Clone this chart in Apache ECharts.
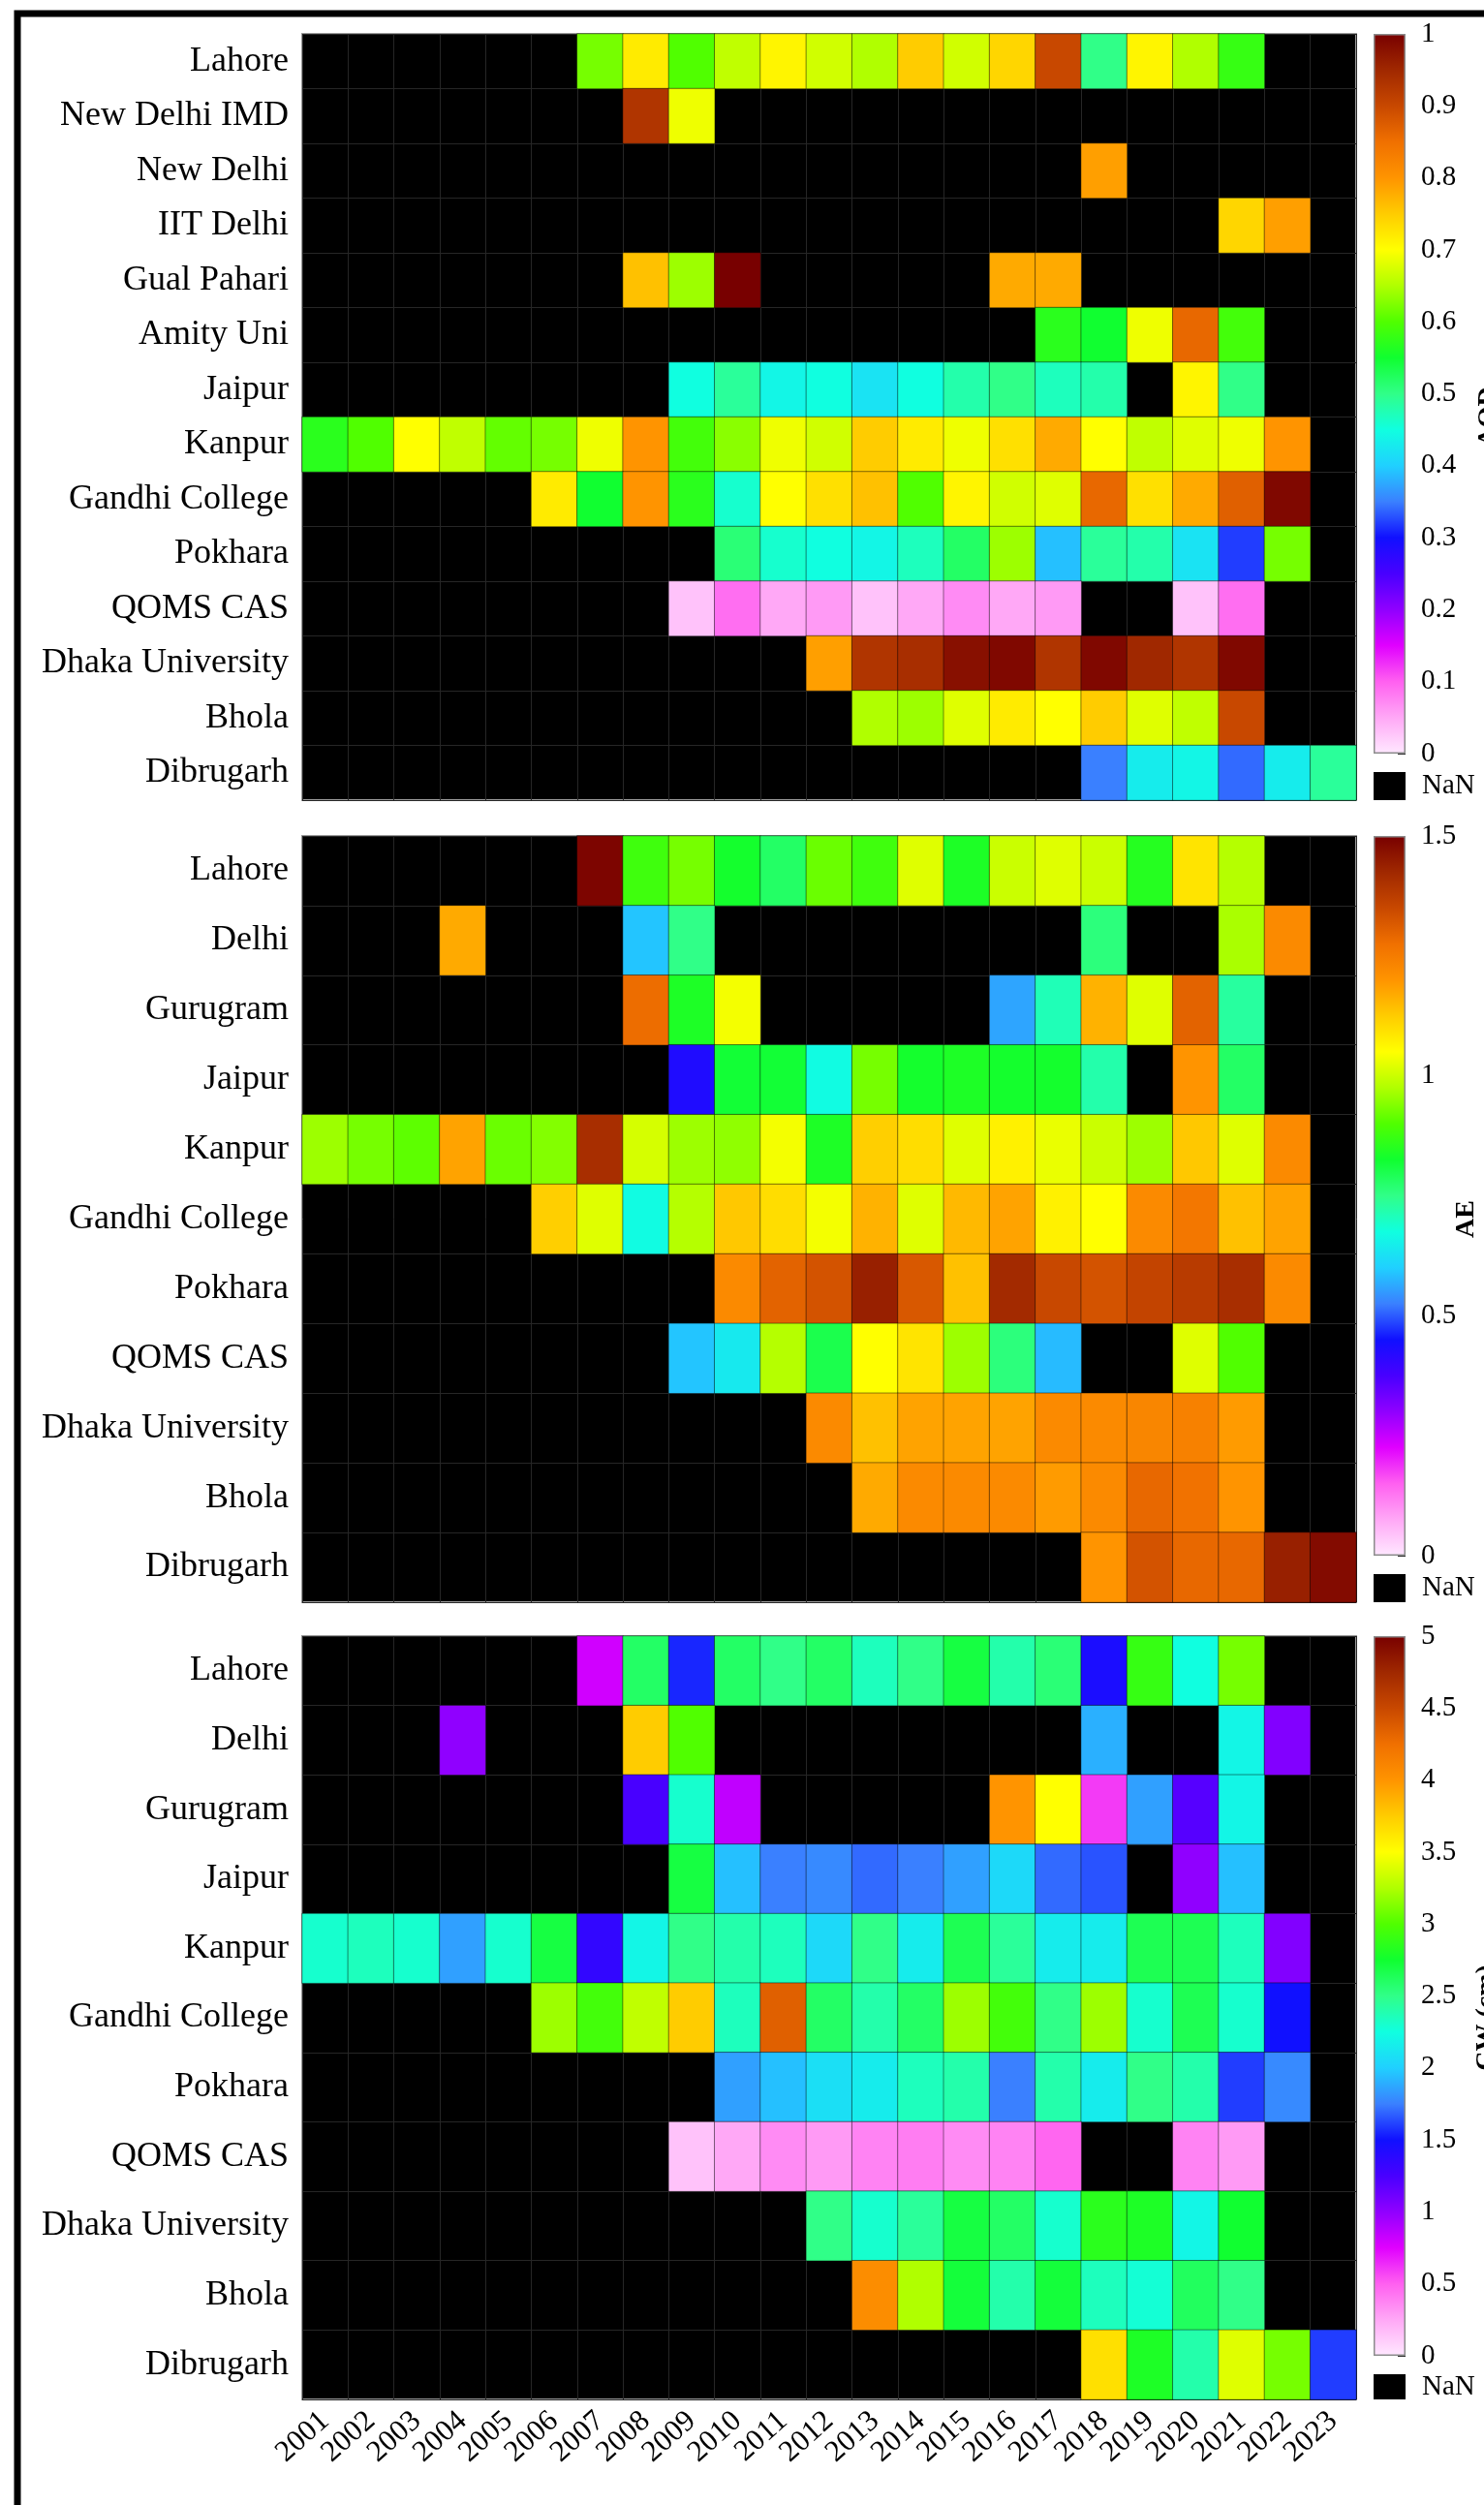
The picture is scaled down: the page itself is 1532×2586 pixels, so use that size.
<!DOCTYPE html>
<html>
<head>
<meta charset="utf-8">
<script src="https://cdn.jsdelivr.net/npm/echarts@6/dist/echarts.min.js"></script>
<style>
    html, body { margin: 0; padding: 0; background: #fff; }
    #main { width: 1532px; height: 2586px; }
</style>
</head>
<body>
<div id="main"></div>
<script>
var N = null;
var years = ['2001', '2002', '2003', '2004', '2005', '2006', '2007', '2008', '2009', '2010', '2011', '2012',
    '2013', '2014', '2015', '2016', '2017', '2018', '2019', '2020', '2021', '2022', '2023'];

// 上图 AOD
var aodSites = ['Lahore', 'New Delhi IMD', 'New Delhi', 'IIT Delhi', 'Gual Pahari', 'Amity Uni', 'Jaipur',
    'Kanpur', 'Gandhi College', 'Pokhara', 'QOMS CAS', 'Dhaka University', 'Bhola', 'Dibrugarh'];
var aodValues = [
    [N, N, N, N, N, N, .62, .72, .60, .66, .71, .67, .65, .75, .67, .74, .90, .50, .71, .65, .58, N, N],
    [N, N, N, N, N, N, N, .93, .69, N, N, N, N, N, N, N, N, N, N, N, N, N, N],
    [N, N, N, N, N, N, N, N, N, N, N, N, N, N, N, N, N, .79, N, N, N, N, N],
    [N, N, N, N, N, N, N, N, N, N, N, N, N, N, N, N, N, N, N, N, .74, .79, N],
    [N, N, N, N, N, N, N, .76, .64, 1.0, N, N, N, N, N, .78, .78, N, N, N, N, N, N],
    [N, N, N, N, N, N, N, N, N, N, N, N, N, N, N, N, .57, .55, .69, .86, .59, N, N],
    [N, N, N, N, N, N, N, N, .45, .49, .44, .45, .42, .45, .48, .50, .47, .48, N, .71, .50, N, N],
    [.57, .60, .70, .66, .61, .62, .69, .80, .59, .63, .69, .67, .75, .72, .69, .73, .78, .70, .66, .68, .69, .80, N],
    [N, N, N, N, N, .72, .55, .80, .57, .46, .70, .73, .76, .60, .71, .67, .68, .86, .73, .78, .87, .99, N],
    [N, N, N, N, N, N, N, N, N, .51, .46, .45, .44, .47, .52, .64, .39, .49, .48, .42, .32, .62, N],
    [N, N, N, N, N, N, N, N, .03, .09, .05, .06, .03, .05, .07, .05, .06, N, N, .03, .09, N, N],
    [N, N, N, N, N, N, N, N, N, N, N, .79, .93, .94, .98, .99, .93, .99, .95, .93, .99, N, N],
    [N, N, N, N, N, N, N, N, N, N, N, N, .65, .64, .68, .72, .70, .75, .68, .66, .90, N, N],
    [N, N, N, N, N, N, N, N, N, N, N, N, N, N, N, N, N, .35, .43, .44, .34, .43, .49]
];

// 中图 AE
var aeSites = ['Lahore', 'Delhi', 'Gurugram', 'Jaipur', 'Kanpur', 'Gandhi College', 'Pokhara', 'QOMS CAS',
    'Dhaka University', 'Bhola', 'Dibrugarh'];
var aeValues = [
    [N, N, N, N, N, N, 1.49, .88, .93, .83, .78, .92, .88, 1.02, .84, 1.00, 1.02, 1.00, .85, 1.09, .98, N, N],
    [N, N, N, 1.17, N, N, N, .59, .75, N, N, N, N, N, N, N, N, .76, N, N, .97, 1.22, N],
    [N, N, N, N, N, N, N, 1.28, .84, 1.04, N, N, N, N, N, .56, .71, 1.16, 1.02, 1.30, .73, N, N],
    [N, N, N, N, N, N, N, N, .43, .82, .82, .67, .93, .83, .84, .83, .83, .72, N, 1.20, .78, N, N],
    [.96, .93, .91, 1.18, .92, .94, 1.41, 1.01, .96, .95, 1.04, .84, 1.12, 1.10, 1.02, 1.07, 1.03, 1.00, .96, 1.13, 1.02, 1.22, N],
    [N, N, N, N, N, 1.12, 1.02, .67, .98, 1.13, 1.10, 1.04, 1.16, 1.02, 1.15, 1.18, 1.07, 1.05, 1.22, 1.26, 1.14, 1.18, N],
    [N, N, N, N, N, N, N, N, N, 1.22, 1.30, 1.33, 1.44, 1.32, 1.14, 1.42, 1.35, 1.33, 1.36, 1.38, 1.41, 1.22, N],
    [N, N, N, N, N, N, N, N, .59, .64, .98, .80, 1.05, 1.09, .96, .76, .58, N, N, 1.02, .90, N, N],
    [N, N, N, N, N, N, N, N, N, N, N, 1.22, 1.14, 1.18, 1.18, 1.18, 1.22, 1.22, 1.23, 1.24, 1.19, N, N],
    [N, N, N, N, N, N, N, N, N, N, N, N, 1.17, 1.22, 1.22, 1.22, 1.19, 1.22, 1.29, 1.27, 1.20, N, N],
    [N, N, N, N, N, N, N, N, N, N, N, N, N, N, N, N, N, 1.20, 1.33, 1.29, 1.29, 1.44, 1.48]
];

// 下图 CW (cm)
var cwSites = aeSites;
var cwValues = [
    [N, N, N, N, N, N, .80, 2.60, 1.55, 2.60, 2.50, 2.60, 2.35, 2.50, 2.70, 2.40, 2.55, 1.45, 2.90, 2.25, 3.10, N, N],
    [N, N, N, 1.00, N, N, N, 3.75, 3.00, N, N, N, N, N, N, N, N, 1.90, N, N, 2.20, 1.05, N],
    [N, N, N, N, N, N, N, 1.25, 2.30, .85, N, N, N, N, N, 4.00, 3.50, .60, 1.85, 1.20, 2.20, N, N],
    [N, N, N, N, N, N, N, N, 2.70, 1.95, 1.75, 1.78, 1.70, 1.75, 1.85, 2.05, 1.70, 1.65, N, 1.00, 1.95, N, N],
    [2.30, 2.35, 2.30, 1.85, 2.30, 2.70, 1.35, 2.20, 2.50, 2.40, 2.35, 2.05, 2.50, 2.15, 2.65, 2.45, 2.15, 2.15, 2.65, 2.65, 2.35, 1.05, N],
    [N, N, N, N, N, 3.20, 2.95, 3.30, 3.75, 2.35, 4.35, 2.60, 2.40, 2.60, 3.20, 2.95, 2.50, 3.20, 2.30, 2.65, 2.30, 1.50, N],
    [N, N, N, N, N, N, N, N, N, 1.85, 1.95, 2.08, 2.15, 2.35, 2.40, 1.75, 2.40, 2.15, 2.50, 2.40, 1.60, 1.78, N],
    [N, N, N, N, N, N, N, N, .15, .25, .35, .30, .38, .40, .35, .38, .48, N, N, .38, .30, N, N],
    [N, N, N, N, N, N, N, N, N, N, N, 2.50, 2.30, 2.45, 2.70, 2.60, 2.30, 2.85, 2.80, 2.20, 2.75, N, N],
    [N, N, N, N, N, N, N, N, N, N, N, N, 4.05, 3.25, 2.72, 2.40, 2.72, 2.35, 2.28, 2.62, 2.50, N, N],
    [N, N, N, N, N, N, N, N, N, N, N, N, N, N, N, N, N, 3.65, 2.80, 2.40, 3.40, 3.10, 1.60]
];

// 色标 (从0到最大值等间距)
var cmap = ['#ffe8ff', '#ffa8f6', '#ff60f0', '#e000ff', '#9000ff', '#4800ff', '#1010ff', '#3a80ff',
    '#20d0ff', '#10ffe0', '#30ff88', '#10ff30', '#50ff00', '#b0ff00', '#ffff00', '#ffcc00',
    '#ff9400', '#f07000', '#c84800', '#a02800', '#780000'];

var serif = '"Liberation Serif", "Times New Roman", serif';

var panels = [
    { sites: aodSites, values: aodValues, max: 1, step: 0.1, name: 'AOD', top: 35, height: 791, nameX: 1537, years: false },
    { sites: aeSites, values: aeValues, max: 1.5, step: 0.5, name: 'AE', top: 863, height: 791, nameX: 1514, years: false },
    { sites: cwSites, values: cwValues, max: 5, step: 0.5, name: 'CW (cm)', top: 1689, height: 788, nameX: 1535, years: true }
];

var myChart = echarts.init(document.getElementById('main'));

var stops = cmap.map(function (c, i) {
    return { offset: i / (cmap.length - 1), color: c };
});

var grids = [], xAxes = [], yAxes = [], series = [], visualMaps = [];
var graphics = [{
    // 外框
    type: 'rect',
    z: 100,
    shape: { x: 18, y: 14, width: 1600, height: 2700 },
    style: { fill: 'none', stroke: '#000', lineWidth: 7 }
}];
var barHeight = 743;

panels.forEach(function (p, i) {
    var g = grids.length;
    // 热力图
    grids.push({
        left: 312, width: 1088, top: p.top, height: p.height,
        show: true, backgroundColor: '#000', borderColor: '#9a9a9a', borderWidth: 2,
        outerBoundsMode: 'none'
    });
    xAxes.push({
        type: 'category', gridIndex: g, data: years,
        axisLine: { show: false }, axisTick: { show: false },
        axisLabel: { show: p.years, interval: 0, rotate: 42, fontSize: 31, fontFamily: serif, color: '#000', margin: 18 },
        splitLine: { show: true, interval: 0, lineStyle: { color: '#262626', width: 1 } }
    });
    yAxes.push({
        type: 'category', gridIndex: g, data: p.sites, inverse: true,
        axisLine: { show: false }, axisTick: { show: false },
        axisLabel: { interval: 0, fontSize: 36, fontFamily: serif, color: '#000', margin: 14 },
        splitLine: { show: true, interval: 0, lineStyle: { color: '#262626', width: 1 } }
    });
    var data = [];
    p.values.forEach(function (row, r) {
        row.forEach(function (v, c) {
            if (v !== null) data.push([c, r, v]);
        });
    });
    series.push({
        type: 'heatmap', xAxisIndex: g, yAxisIndex: g, data: data,
        itemStyle: { borderColor: 'rgba(0,0,0,0.45)', borderWidth: 1 },
        emphasis: { disabled: true }
    });
    visualMaps.push({
        type: 'continuous', show: false, seriesIndex: series.length - 1,
        min: 0, max: p.max, inRange: { color: cmap }
    });

    // 色条
    grids.push({ left: 1418, width: 33, top: p.top, height: barHeight, outerBoundsMode: 'none' });
    xAxes.push({ type: 'category', gridIndex: g + 1, data: [''], show: false });
    yAxes.push({
        type: 'value', gridIndex: g + 1, position: 'right',
        min: 0, max: p.max, interval: p.step,
        axisLine: { show: false },
        axisTick: { show: true, inside: true, length: 8, lineStyle: { color: '#333' } },
        splitLine: { show: false },
        axisLabel: { fontSize: 29, fontFamily: serif, color: '#000', margin: 16 }
    });
    series.push({
        type: 'bar', xAxisIndex: g + 1, yAxisIndex: g + 1, data: [p.max],
        barWidth: '100%', silent: true, z: 1,
        itemStyle: {
            color: new echarts.graphic.LinearGradient(0, 1, 0, 0, stops),
            borderColor: '#8c8c8c', borderWidth: 1.5
        }
    });

    // NaN 图例
    graphics.push({
        type: 'rect',
        shape: { x: 1418, y: p.top + barHeight + 19, width: 33, height: p.height - barHeight - 19 },
        style: { fill: '#000' }
    });
    graphics.push({
        type: 'text', x: 1468, y: p.top + barHeight + 19 + (p.height - barHeight - 19) / 2,
        style: { text: 'NaN', font: '29px ' + serif, fill: '#000', verticalAlign: 'middle' }
    });
    // 色条标题
    graphics.push({
        type: 'text', x: p.nameX, y: p.top + p.height / 2, rotation: Math.PI / 2,
        style: { text: p.name, font: 'bold 28px ' + serif, fill: '#000', align: 'center', verticalAlign: 'middle' }
    });
});

option = {
    backgroundColor: '#fff',
    animation: false,
    grid: grids,
    xAxis: xAxes,
    yAxis: yAxes,
    visualMap: visualMaps,
    series: series,
    graphic: graphics
};
myChart.setOption(option);
</script>
</body>
</html>
